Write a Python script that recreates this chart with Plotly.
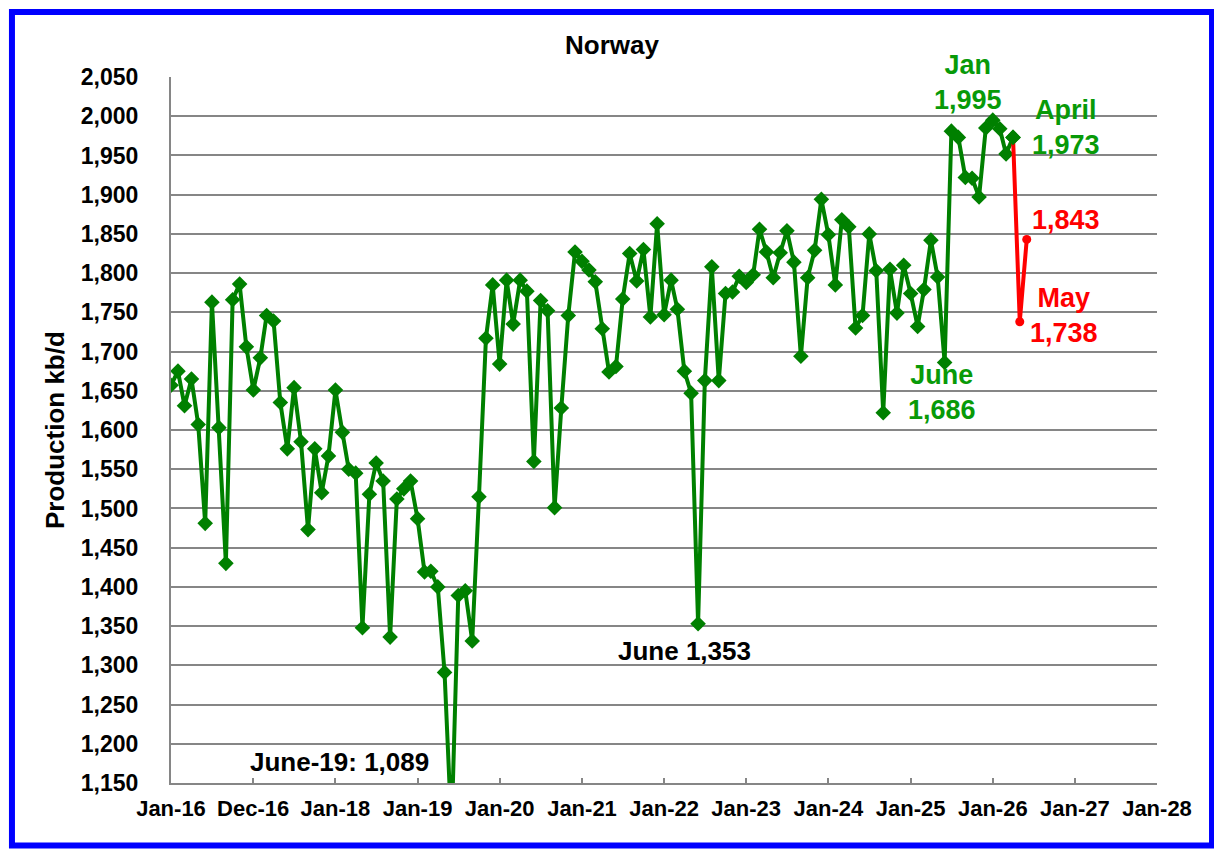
import pandas as pd
import plotly.graph_objects as go

# Norway crude production, kb/d, monthly from Jan-2016
green_kbd = [
    1657, 1675, 1631, 1665, 1607, 1481, 1763, 1603, 1430, 1766, 1786, 1706,
    1651, 1692, 1746, 1739, 1635, 1576, 1654, 1585, 1473, 1576, 1520, 1567,
    1651, 1597, 1550, 1545, 1348, 1518, 1558, 1535, 1336, 1512, 1525, 1535,
    1487, 1419, 1420, 1400, 1291, 1089, 1389, 1395, 1331, 1515, 1717, 1785,
    1684, 1791, 1735, 1791, 1777, 1560, 1765, 1752, 1501, 1628, 1746, 1827,
    1815, 1804, 1789, 1729, 1674, 1681, 1767, 1825, 1790, 1830, 1744, 1863,
    1747, 1791, 1754, 1675, 1647, 1353, 1663, 1808, 1663, 1774, 1776, 1796,
    1788, 1798, 1856, 1827, 1794, 1826, 1854, 1814, 1694, 1794, 1829, 1894,
    1849, 1785, 1868, 1859, 1730, 1746, 1850, 1803, 1622, 1805, 1749, 1810,
    1774, 1732, 1779, 1842, 1795, 1686, 1981, 1973, 1922, 1921, 1897, 1985,
    1995, 1984, 1952, 1973,
]
green_months = pd.date_range("2016-01-01", periods=len(green_kbd), freq="MS")

# April actual, then May and June
red_months = ["2026-04-01", "2026-05-01", "2026-06-01"]
red_kbd = [1973, 1738, 1843]

tick_dates = ["2016-01-01", "2016-12-31", "2018-01-01", "2019-01-01", "2020-01-01",
              "2021-01-01", "2022-01-01", "2023-01-01", "2024-01-01", "2025-01-01",
              "2026-01-01", "2027-01-01", "2028-01-01"]
tick_text = ["Jan-16", "Dec-16", "Jan-18", "Jan-19", "Jan-20", "Jan-21", "Jan-22",
             "Jan-23", "Jan-24", "Jan-25", "Jan-26", "Jan-27", "Jan-28"]

FONT = "Liberation Sans, Arial, sans-serif"
GREEN = "#008000"
GREEN_TXT = "#089A08"
RED = "#FF0000"
GRID = "#868686"

fig = go.Figure()
fig.add_trace(go.Scatter(
    x=green_months, y=green_kbd, mode="lines+markers",
    line=dict(color=GREEN, width=4),
    marker=dict(symbol="diamond", size=12, color=GREEN),
    showlegend=False,
))
fig.add_trace(go.Scatter(
    x=red_months, y=red_kbd, mode="lines+markers",
    line=dict(color=RED, width=4),
    marker=dict(symbol="circle", size=9, color=RED),
    showlegend=False,
))
# April diamond back on top of the red line start
fig.add_trace(go.Scatter(
    x=green_months[-1:], y=green_kbd[-1:], mode="markers",
    marker=dict(symbol="diamond", size=12, color=GREEN),
    showlegend=False,
))

fig.update_xaxes(
    type="date", range=["2016-01-01", "2028-01-01"],
    tickvals=tick_dates, ticktext=tick_text,
    ticks="inside", ticklen=5, tickwidth=2, tickcolor=GRID,
    showline=True, linecolor=GRID, linewidth=2,
    showgrid=False, zeroline=False,
    tickfont=dict(family=FONT, size=22, color="black", weight="bold"),
    ticklabelstandoff=5,
)
fig.update_yaxes(
    range=[1150, 2050], tickvals=list(range(1150, 2051, 50)), tickformat=",",
    showline=True, linecolor=GRID, linewidth=2,
    showgrid=True, gridcolor=GRID, gridwidth=2, zeroline=False,
    ticks="", tickfont=dict(family=FONT, size=23, color="black", weight="bold"),
    ticklabelstandoff=26,
)

def note(text, x, y, color, size):
    fig.add_annotation(text=text, x=x, y=y, xref="paper", yref="paper",
                       showarrow=False, xanchor="center", yanchor="middle",
                       font=dict(family=FONT, size=size, color=color, weight="bold"))

note("Norway", 0.447, 1.045, "black", 26)
note("Jan<br>1,995", 0.808, 0.992, GREEN_TXT, 27)
note("April<br>1,973", 0.908, 0.929, GREEN_TXT, 27)
note("1,843", 0.908, 0.797, RED, 27)
note("May<br>1,738", 0.906, 0.662, RED, 27)
note("June<br>1,686", 0.782, 0.553, GREEN_TXT, 27)
note("June 1,353", 0.521, 0.187, "black", 26)
note("June-19: 1,089", 0.171, 0.030, "black", 26)

fig.add_annotation(text="Production kb/d", x=-0.1176, y=0.5, xref="paper", yref="paper",
                   showarrow=False, textangle=-90, xanchor="center", yanchor="middle",
                   font=dict(family=FONT, size=26, color="black", weight="bold"))

# blue frame around the whole chart
fig.add_shape(type="rect", xref="paper", yref="paper",
              x0=-0.1613, x1=1.0558, y0=-0.0885, y1=1.0921,
              line=dict(color="#0000FF", width=6))

# page body adds 8px around the figure, so the figure is 16px smaller
fig.update_layout(
    width=1206, height=846,
    margin=dict(l=163, r=57, t=69, b=71),
    plot_bgcolor="white", paper_bgcolor="white",
)

fig.write_html("out.html")
